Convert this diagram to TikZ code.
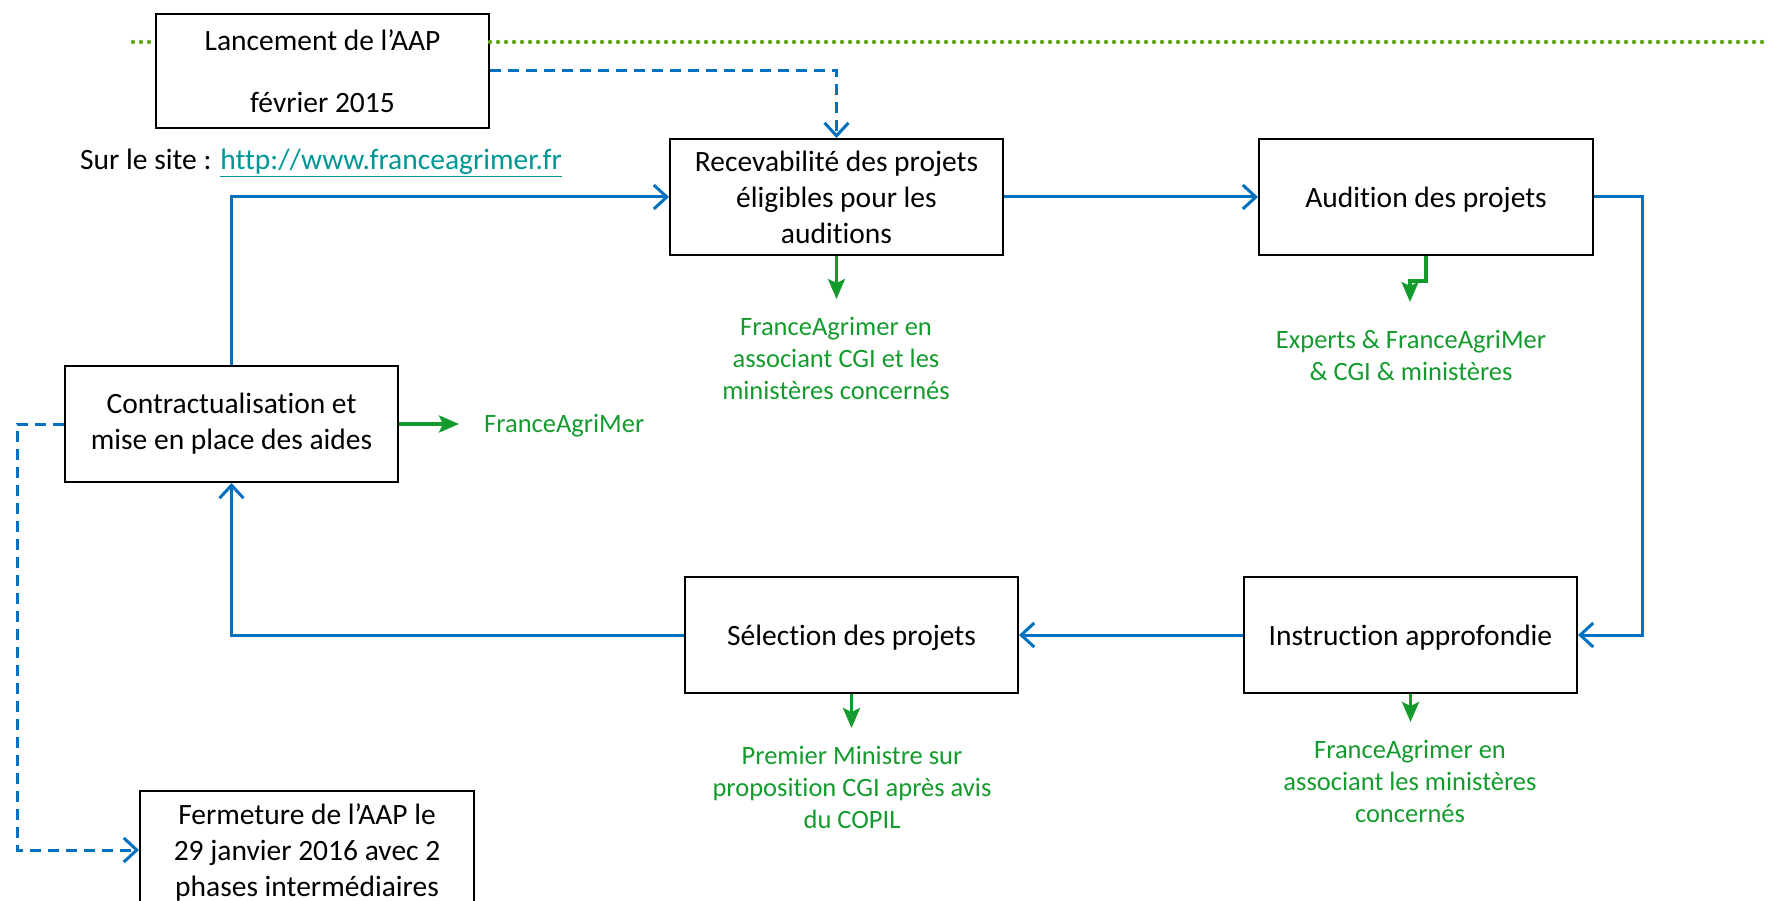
\documentclass[tikz,border=0pt]{standalone}
\usepackage{fontspec}
\setmainfont{Carlito}[Ligatures=NoCommon]
\usetikzlibrary{arrows.meta}
\definecolor{oblue}{RGB}{0,112,192}
\definecolor{ogreen}{RGB}{20,155,45}
\definecolor{dgreen}{RGB}{100,170,20}
\definecolor{linkc}{RGB}{0,150,150}
\tikzset{
  box/.style={draw=black, line width=2pt, minimum width=333pt, minimum height=116pt, align=center, inner sep=0pt,
     font=\fontsize{29.5}{36}\selectfont},
  onebox/.style={box, text height=28pt, text depth=7pt},
  glabel/.style={text=ogreen, align=center, inner sep=0pt, font=\fontsize{26.5}{32}\selectfont},
  flow/.style={draw=oblue, line width=3pt, -{Straight Barb[length=13pt,width=24pt,line width=3pt]}},
  dflow/.style={flow, dash pattern=on 11pt off 7pt},
  garrow/.style={draw=ogreen, line width=3.5pt, -{Stealth[length=20pt,width=17pt,inset=4pt]}},
  dotline/.style={draw=dgreen, line width=4.5pt, line cap=round, dash pattern=on 0pt off 8pt},
}
\begin{document}
\begin{tikzpicture}[x=1pt,y=-1pt]
\useasboundingbox (0,0) rectangle (1769,901);
% dotted line
\coordinate (dl) at (133,42);
\coordinate (dr) at (1769,42);
\node[box, minimum height=114pt, font=\fontsize{29.5}{62}\selectfont, fill=white] (lanc) at (322.5,71) {Lancement de l’AAP\\février 2015};
\draw[dotline] (dl) -- (lanc.west |- dl);
\draw[dotline] (lanc.east |- dr) -- (dr);

\node[anchor=west, inner sep=0pt, font=\fontsize{29.5}{36}\selectfont] (site) at (80,163) {Sur le site : \textcolor{linkc}{\underline{http://www.franceagrimer.fr}}};

\node[box] (rec) at (836.5,197) {Recevabilité des projets\\éligibles pour les\\auditions};
\node[onebox, minimum width=334pt] (aud) at (1426,197) {Audition des projets};
\node[box] (con) at (231.5,424) {Contractualisation et\\mise en place des aides};
\node[onebox] (sel) at (851.5,635) {Sélection des projets};
\node[onebox] (ins) at (1410.5,635) {Instruction approfondie};
\node[box, minimum width=334pt, minimum height=118pt, text depth=0pt] (fer) at (307,850) {Fermeture de l’AAP le\\29 janvier 2016 avec 2\\phases intermédiaires};

% green labels
\node[glabel] (recL) at (836,358) {FranceAgrimer en\\associant CGI et les\\ministères concernés};
\node[glabel] (audL) at (1411,355.5) {Experts \& FranceAgriMer\\\& CGI \& ministères};
\node[glabel] (selL) at (852,787) {Premier Ministre sur\\proposition CGI après avis\\du COPIL};
\node[glabel] (insL) at (1410,781.5) {FranceAgrimer en\\associant les ministères\\concernés};
\node[glabel, anchor=west] (conL) at (484,426) {FranceAgriMer};

% blue flows
\draw[dflow] (lanc.east) -| (rec.north);
\coordinate (cl) at (17,424);
\draw[dflow] (con.west) -- (cl) |- (fer.west);
\draw[flow] (con.north) |- (rec.west);
\draw[flow] (rec.east) -- (aud.west);
\coordinate (ar) at (1642,197);
\draw[flow] (aud.east) -- (ar) |- (ins.east);
\draw[flow] (ins.west) -- (sel.east);
\draw[flow] (sel.west) -| (con.south);

% green arrows
\coordinate (recA) at (836.5,299);
\draw[garrow] (rec.south) -- (recA);
\coordinate (audA) at (1410,302);
\draw[garrow] (aud.south) -- ++(0,25) -| (audA);
\coordinate (selA) at (851.5,728);
\draw[garrow] (sel.south) -- (selA);
\coordinate (insA) at (1410.5,722);
\draw[garrow] (ins.south) -- (insA);
\coordinate (conA) at (459,424);
\draw[garrow] (con.east) -- (conA);
\end{tikzpicture}
\end{document}
